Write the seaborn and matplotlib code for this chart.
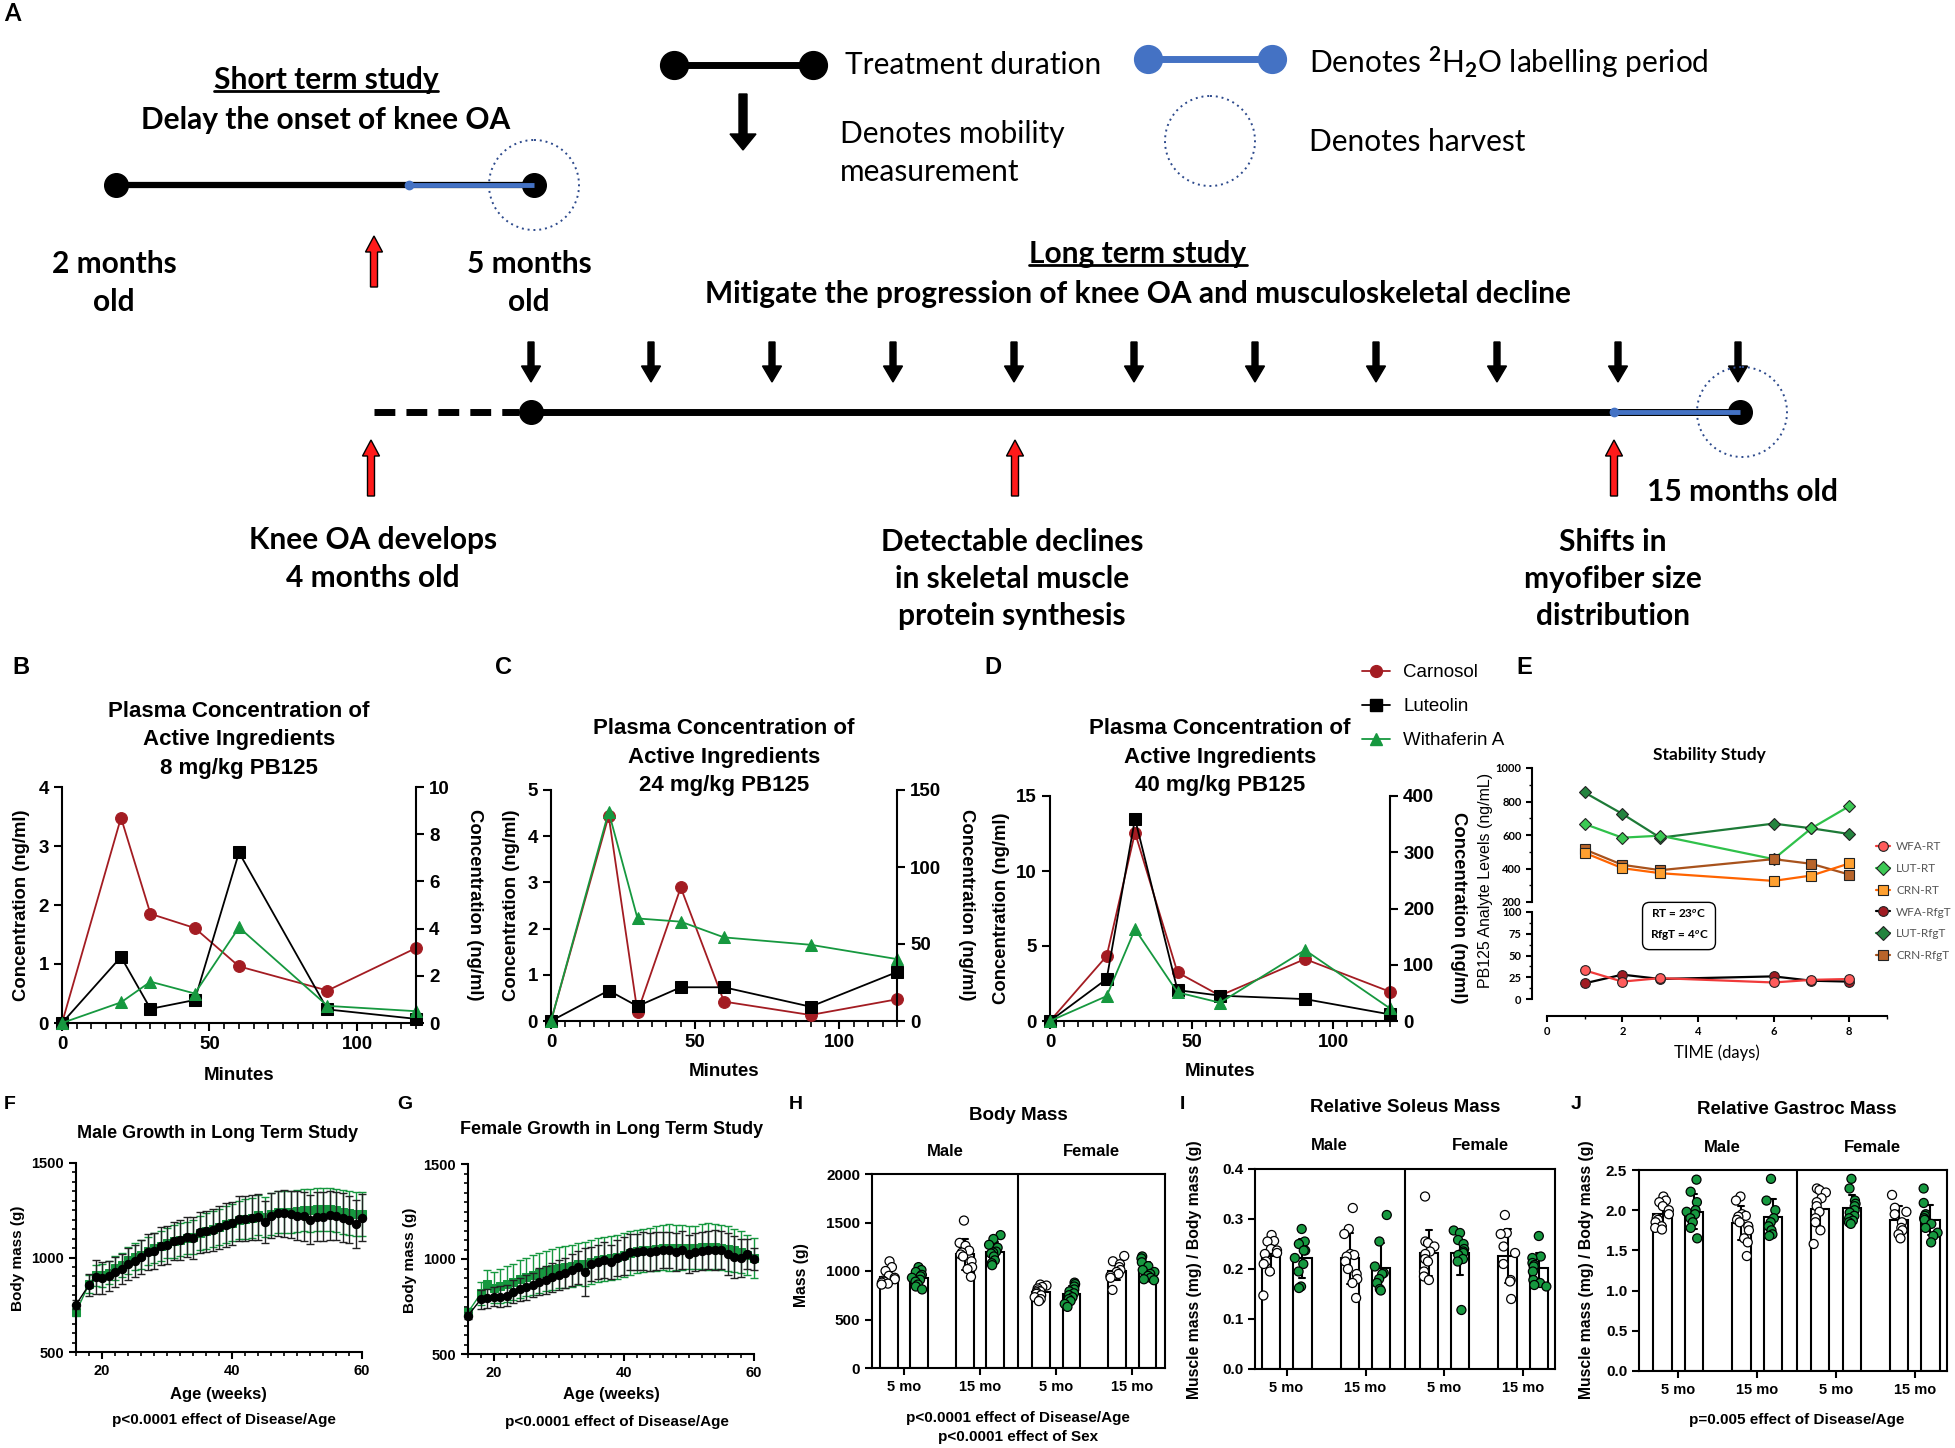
"""
PB125 study overview figure: timeline schematic, plasma PK curves,
stability study, growth curves and muscle-mass bar charts.
"""

import matplotlib.pyplot as plt
import numpy as np
import pandas as pd
import seaborn as sns
from matplotlib.lines import Line2D
from matplotlib.patches import Circle, FancyArrow
from matplotlib.ticker import MultipleLocator

# ── Data: plasma concentration (B-D) ────────────────────────────────
TIMES = [0, 20, 30, 45, 60, 90, 120]

B_CARNOSOL = [0, 3.48, 1.85, 1.61, 0.96, 0.55, 1.27]
B_LUTEOLIN = [0, 1.12, 0.24, 0.39, 2.89, 0.23, 0.07]
B_WITHAFERIN = [0, 0.35, 0.70, 0.50, 1.62, 0.29, 0.20]

C_CARNOSOL = [0, 4.44, 0.19, 2.89, 0.42, 0.13, 0.47]
C_LUTEOLIN = [0, 0.66, 0.32, 0.73, 0.73, 0.31, 1.06]
C_WITHAFERIN = [0, 4.53, 2.22, 2.15, 1.81, 1.65, 1.34]

D_CARNOSOL = [0, 4.33, 12.56, 3.24, 1.69, 4.13, 1.95]
D_LUTEOLIN = [0, 2.80, 13.49, 2.06, 1.69, 1.46, 0.44]
D_WITHAFERIN = [0, 1.66, 6.12, 1.91, 1.22, 4.73, 0.84]

# ── Data: stability study (E) ───────────────────────────────────────
DAYS = [1, 2, 3, 6, 7, 8]
WFA_RT = [33, 20, 24, 19, 22, 23]
LUT_RT = [666, 584, 596, 456, 640, 772]
CRN_RT = [494, 402, 372, 326, 358, 430]
WFA_RFGT = [18, 28, 23, 26, 21, 20]
LUT_RFGT = [854, 726, 584, 668, 640, 606]
CRN_RFGT = [514, 422, 390, 456, 428, 364]

# ── Data: growth curves (F, G) ──────────────────────────────────────
WEEKS = [16] + list(range(18, 61))

MALE_CTRL = [750, 855, 895, 890, 904, 925, 939, 966, 982, 1004,
             1027, 1036, 1062, 1066, 1089, 1092, 1110, 1103, 1133, 1138,
             1145, 1159, 1171, 1180, 1206, 1206, 1210, 1215, 1187, 1222,
             1233, 1233, 1228, 1221, 1219, 1201, 1215, 1215, 1224, 1219,
             1210, 1201, 1177, 1210]
MALE_CTRL_SD = [25, 60, 90, 85, 80, 80, 80, 85, 85, 90,
                95, 95, 100, 100, 100, 105, 105, 110, 110, 110,
                110, 115, 115, 115, 120, 120, 120, 120, 110, 120,
                120, 125, 125, 130, 130, 130, 130, 130, 130, 125,
                130, 125, 125, 125]
MALE_PB = [710, 860, 905, 905, 920, 945, 960, 985, 1005, 1015,
           1035, 1050, 1060, 1075, 1085, 1095, 1105, 1110, 1130, 1140,
           1150, 1160, 1175, 1185, 1200, 1205, 1210, 1225, 1215, 1230,
           1240, 1240, 1240, 1245, 1250, 1250, 1255, 1255, 1255, 1250,
           1240, 1235, 1230, 1230]
MALE_PB_SD = [20, 50, 55, 60, 60, 65, 65, 70, 70, 75,
              75, 80, 80, 80, 85, 85, 85, 90, 90, 95,
              95, 95, 100, 100, 100, 105, 105, 105, 105, 110,
              110, 110, 110, 110, 110, 115, 115, 115, 115, 115,
              115, 115, 115, 115]

FEMALE_CTRL = [702, 789, 793, 802, 802, 807, 828, 840, 851, 863,
               881, 889, 903, 916, 925, 942, 956, 932, 974, 986,
               995, 986, 1004, 1018, 1035, 1035, 1044, 1039, 1044, 1047,
               1047, 1035, 1047, 1025, 1039, 1044, 1047, 1047, 1047, 1025,
               1012, 1004, 1025, 1000]
FEMALE_CTRL_SD = [20, 50, 50, 50, 55, 55, 60, 60, 65, 65,
                  70, 75, 75, 80, 80, 85, 85, 125, 90, 90,
                  95, 90, 95, 100, 95, 95, 100, 100, 100, 95,
                  95, 100, 100, 100, 100, 100, 100, 105, 100, 110,
                  110, 100, 80, 60]
FEMALE_PB = [720, 820, 870, 850, 860, 870, 880, 895, 905, 915,
             925, 935, 945, 955, 960, 965, 975, 975, 985, 995,
             1000, 1005, 1010, 1020, 1030, 1040, 1045, 1050, 1055, 1060,
             1060, 1060, 1060, 1060, 1060, 1065, 1065, 1065, 1060, 1055,
             1045, 1035, 1020, 1005]
FEMALE_PB_SD = [20, 60, 70, 80, 90, 95, 95, 100, 100, 105,
                105, 105, 110, 110, 110, 110, 110, 115, 115, 115,
                115, 115, 115, 115, 115, 115, 115, 115, 120, 120,
                125, 120, 120, 115, 115, 120, 125, 120, 120, 120,
                115, 110, 105, 105]

# ── Data: body and muscle mass (H-J) ────────────────────────────────
CATS = ["M5", "M15", "F5", "F15"]
AGE_LABELS = ["5 mo", "15 mo", "5 mo", "15 mo"]
GROUPS = ["Vehicle", "PB125"]

BODY_M5_VEH = [1100, 1040, 1000, 950, 930, 915, 900, 890, 880, 870, 860]
BODY_M5_PB = [1040, 1010, 990, 960, 945, 930, 910, 890, 860, 840, 810]
BODY_M15_VEH = [1520, 1290, 1260, 1210, 1190, 1170, 1150, 1100, 1040, 1020, 940]
BODY_M15_PB = [1370, 1330, 1270, 1240, 1200, 1190, 1180, 1150, 1110, 1080, 1060]
BODY_F5_VEH = [860, 850, 835, 820, 800, 790, 780, 765, 750, 730, 710, 690]
BODY_F5_PB = [880, 865, 840, 810, 790, 770, 750, 730, 710, 690, 660, 630]
BODY_F15_VEH = [1155, 1100, 1070, 1040, 1010, 990, 970, 950, 930, 805]
BODY_F15_PB = [1150, 1130, 1090, 1050, 1010, 990, 970, 950, 930, 915, 905]

SOL_M5_VEH = [0.268, 0.256, 0.255, 0.240, 0.237, 0.232, 0.230, 0.215, 0.210, 0.195, 0.147]
SOL_M5_PB = [0.280, 0.255, 0.250, 0.237, 0.237, 0.222, 0.210, 0.195, 0.165, 0.162]
SOL_M15_VEH = [0.322, 0.280, 0.270, 0.230, 0.228, 0.225, 0.215, 0.200, 0.190, 0.180, 0.172, 0.142]
SOL_M15_PB = [0.308, 0.255, 0.205, 0.192, 0.190, 0.180, 0.172, 0.160, 0.157]
SOL_F5_VEH = [0.345, 0.255, 0.252, 0.245, 0.235, 0.230, 0.220, 0.215, 0.195, 0.185, 0.178]
SOL_F5_PB = [0.277, 0.272, 0.258, 0.250, 0.240, 0.235, 0.232, 0.228, 0.220, 0.215, 0.118]
SOL_F15_VEH = [0.308, 0.272, 0.270, 0.245, 0.232, 0.210, 0.178, 0.175, 0.140]
SOL_F15_PB = [0.266, 0.225, 0.222, 0.212, 0.208, 0.205, 0.195, 0.178, 0.172, 0.168, 0.165]

GAS_M5_VEH = [2.17, 2.12, 2.10, 2.05, 2.00, 1.95, 1.90, 1.88, 1.85, 1.80, 1.78, 1.76]
GAS_M5_PB = [2.38, 2.23, 2.10, 2.00, 1.98, 1.95, 1.90, 1.85, 1.78, 1.65]
GAS_M15_VEH = [2.17, 2.12, 1.95, 1.93, 1.92, 1.88, 1.85, 1.80, 1.75, 1.65, 1.60, 1.43]
GAS_M15_PB = [2.39, 2.12, 2.00, 1.90, 1.85, 1.80, 1.75, 1.70, 1.68]
GAS_F5_VEH = [2.27, 2.25, 2.22, 2.15, 2.10, 2.05, 1.98, 1.90, 1.85, 1.75, 1.58]
GAS_F5_PB = [2.39, 2.27, 2.12, 2.08, 2.05, 2.00, 1.97, 1.93, 1.90, 1.87, 1.85, 1.83]
GAS_F15_VEH = [2.19, 2.03, 1.98, 1.95, 1.85, 1.78, 1.75, 1.70, 1.65]
GAS_F15_PB = [2.27, 2.09, 1.95, 1.93, 1.90, 1.88, 1.83, 1.78, 1.72, 1.68, 1.60]

# ── Theme ───────────────────────────────────────────────────────────
sns.set_theme(style="ticks")
plt.rcParams.update({
    "font.family": ["Liberation Sans", "DejaVu Sans"],
    "font.weight": "bold",
    "axes.labelweight": "bold",
    "axes.titleweight": "bold",
    "axes.edgecolor": "black",
    "axes.linewidth": 1.5,
    "text.color": "black",
    "xtick.color": "black",
    "ytick.color": "black",
    "xtick.major.width": 1.5,
    "ytick.major.width": 1.5,
    "xtick.minor.width": 1.2,
    "ytick.minor.width": 1.2,
    "mathtext.fontset": "custom",
    "mathtext.rm": "Lato",
    "mathtext.it": "Lato:italic",
    "mathtext.bf": "Lato:bold",
})

RED = "#a31c22"
GREEN = "#16983f"
BLUE = "#4472c4"
W, H = 1956, 1448

fig = plt.figure(figsize=(W / 100, H / 100), dpi=100)


def px_rect(x0, y0, x1, y1):
    return [x0 / W, 1 - y1 / H, (x1 - x0) / W, (y1 - y0) / H]


def ftext(x, y, s, **kw):
    kw.setdefault("ha", "center")
    kw.setdefault("va", "center")
    return fig.text(x / W, 1 - y / H, s, **kw)


# ── Panel letters ───────────────────────────────────────────────────
for letter, x, y, size in [("B", 12, 656, 17), ("C", 495, 656, 17),
                           ("D", 984, 656, 17), ("E", 1516, 656, 17),
                           ("F", 4, 1096, 14), ("G", 397, 1096, 14),
                           ("H", 789, 1096, 14), ("I", 1180, 1096, 14),
                           ("J", 1571, 1096, 14)]:
    ftext(x, y, letter, ha="left", va="top", fontsize=size)
ftext(4, 2, "A", ha="left", va="top", fontsize=17, family="Lato")

# ── Panel A: study timeline schematic ───────────────────────────────
ax_a = fig.add_axes([0, 1 - 650 / H, 1, 650 / H])
ax_a.set_xlim(0, W)
ax_a.set_ylim(650, 0)
ax_a.set_axis_off()

A_FONT = dict(family="Lato", fontsize=21.5)


def dumbbell(x0, x1, y, color, lw, ms):
    ax_a.plot([x0, x1], [y, y], color=color, lw=lw, solid_capstyle="butt")
    ax_a.plot([x0, x1], [y, y], "o", color=color, ms=ms)


def harvest(x, y):
    ax_a.add_patch(Circle((x, y), 45, fill=False, ec="#2d4a8c",
                          lw=1.4, ls=(0, (1, 2))))


def down_arrow(x, y0, y1, width=6, head=19):
    ax_a.add_patch(FancyArrow(x, y0, 0, y1 - y0, width=width, head_width=head,
                              head_length=16, length_includes_head=True,
                              fc="black", ec="black"))


def red_arrow(x, y_tail, y_head):
    ax_a.add_patch(FancyArrow(x, y_tail, 0, y_head - y_tail, width=7,
                              head_width=17, head_length=16,
                              length_includes_head=True,
                              fc="#ff1a1a", ec="black", lw=1))


def underline(t):
    r = fig.canvas.get_renderer()
    bb = t.get_window_extent(renderer=r)
    inv = ax_a.transData.inverted()
    (x0, y0), (x1, _) = inv.transform([[bb.x0, bb.y0], [bb.x1, bb.y1]])
    ax_a.plot([x0, x1], [y0 - 3, y0 - 3], color="black", lw=2)


# legend of the schematic
dumbbell(674, 813, 65, "black", 5, 20)
ax_a.text(845, 65, "Treatment duration", va="center", fontweight="normal", **A_FONT)
dumbbell(1148, 1272, 59, BLUE, 5, 20)
ax_a.text(1309, 62, "Denotes $^{2}$H$_{2}$O labelling period", va="center",
          fontweight="normal", **A_FONT)
down_arrow(743, 94, 150, width=8, head=26)
ax_a.text(840, 153, "Denotes mobility\nmeasurement", va="center",
          linespacing=1.45, fontweight="normal", **A_FONT)
harvest(1210, 141)
ax_a.text(1309, 142, "Denotes harvest", va="center", fontweight="normal", **A_FONT)

# short term study
t = ax_a.text(326, 80, "Short term study", ha="center", va="center",
              fontweight="bold", **A_FONT)
underline(t)
ax_a.text(326, 120, "Delay the onset of knee OA", ha="center", va="center",
          fontweight="bold", **A_FONT)
ax_a.plot([116, 534], [185, 185], color="black", lw=4.5, solid_capstyle="butt")
ax_a.plot([116, 534], [185, 185], "o", color="black", ms=17)
ax_a.plot([409, 534], [185, 185], color=BLUE, lw=3.5, solid_capstyle="butt")
ax_a.plot([409], [185], "o", color=BLUE, ms=6)
harvest(534, 185)
red_arrow(374, 287, 236)
ax_a.text(114, 283, "2 months\nold", ha="center", va="center",
          linespacing=1.4, fontweight="bold", **A_FONT)
ax_a.text(529, 283, "5 months\nold", ha="center", va="center",
          linespacing=1.4, fontweight="bold", **A_FONT)

# long term study
t = ax_a.text(1138, 254, "Long term study", ha="center", va="center",
              fontweight="bold", **A_FONT)
underline(t)
ax_a.text(1138, 294, "Mitigate the progression of knee OA and musculoskeletal decline",
          ha="center", va="center", fontweight="bold", **A_FONT)
for x in [531, 651, 772, 893, 1014, 1134, 1255, 1376, 1497, 1618, 1738]:
    down_arrow(x, 342, 382)
ax_a.plot([374, 519], [412, 412], color="black", lw=5, ls=(0, (3, 1.6)),
          solid_capstyle="butt")
ax_a.plot([531, 1740], [412, 412], color="black", lw=5, solid_capstyle="butt")
ax_a.plot([531, 1740], [412, 412], "o", color="black", ms=17)
ax_a.plot([1614, 1740], [412, 412], color=BLUE, lw=3.5, solid_capstyle="butt")
ax_a.plot([1614], [412], "o", color=BLUE, ms=6)
harvest(1742, 412)
for x in [371, 1015, 1614]:
    red_arrow(x, 496, 440)
ax_a.text(1647, 492, "15 months old", va="center", fontweight="bold", **A_FONT)
ax_a.text(373, 559, "Knee OA develops\n4 months old", ha="center", va="center",
          linespacing=1.4, fontweight="bold", **A_FONT)
ax_a.text(1012, 579, "Detectable declines\nin skeletal muscle\nprotein synthesis",
          ha="center", va="center", linespacing=1.4, fontweight="bold", **A_FONT)
ax_a.text(1613, 579, "Shifts in\nmyofiber size\ndistribution",
          ha="center", va="center", linespacing=1.4, fontweight="bold", **A_FONT)

# ── Panels B-D: plasma concentration ────────────────────────────────
SERIES_STYLE = [("Carnosol", RED, "o"), ("Luteolin", "black", "s"),
                ("Withaferin A", GREEN, "^")]


def pk_panel(px, series, left_max, left_step, right_max, right_step,
             title, title_y, lab_y, left_x, right_x, minutes_y):
    ax = fig.add_axes(px_rect(*px))
    for vals, (name, col, mk) in zip(series, SERIES_STYLE):
        sns.lineplot(x=TIMES, y=vals, ax=ax, color=col, marker=mk,
                     markersize=8.5, markeredgecolor=col, linewidth=1.3,
                     clip_on=False, zorder=3)
    ax.set_xlim(0, 120)
    ax.set_ylim(0, left_max)
    ax.set_xticks([0, 50, 100])
    ax.xaxis.set_minor_locator(MultipleLocator(5))
    ax.yaxis.set_major_locator(MultipleLocator(left_step))
    ax.tick_params(which="major", direction="out", length=6, labelsize=13.5)
    ax.tick_params(which="minor", direction="out", length=4)
    ax.spines[["top", "right"]].set_visible(False)
    ax.set_xlabel("")
    ax.set_ylabel("")

    ax2 = ax.twinx()
    ax2.set_ylim(0, right_max)
    ax2.yaxis.set_major_locator(MultipleLocator(right_step))
    ax2.tick_params(direction="out", length=6, labelsize=13.5)
    ax2.spines[["top", "left", "bottom"]].set_visible(False)
    ax2.grid(False)

    cx = (px[0] + px[2]) / 2
    ftext(cx, title_y, title, fontsize=16, linespacing=1.45)
    ftext(left_x, lab_y, "Concentration (ng/ml)", rotation=90, fontsize=13.3)
    ftext(right_x, lab_y, "Concentration (ng/ml)", rotation=270, fontsize=13.3)
    ftext(cx, minutes_y, "Minutes", fontsize=13.5)
    return ax


pk_panel((62, 787, 416, 1023), [B_CARNOSOL, B_LUTEOLIN, B_WITHAFERIN],
         4, 1, 10, 2, "Plasma Concentration of\nActive Ingredients\n8 mg/kg PB125",
         740, 905, 22, 475, 1075)
pk_panel((551, 790, 897, 1021), [C_CARNOSOL, C_LUTEOLIN, C_WITHAFERIN],
         5, 1, 150, 50, "Plasma Concentration of\nActive Ingredients\n24 mg/kg PB125",
         757, 905, 512, 967, 1072)
pk_panel((1050, 796, 1390, 1021), [D_CARNOSOL, D_LUTEOLIN, D_WITHAFERIN],
         15, 5, 400, 100, "Plasma Concentration of\nActive Ingredients\n40 mg/kg PB125",
         757, 908, 1002, 1459, 1072)

pk_handles = [Line2D([], [], color=c, marker=m, markersize=8.5, lw=1.3)
              for _, c, m in SERIES_STYLE]
fig.legend(pk_handles, [n for n, _, _ in SERIES_STYLE], loc="upper left",
           bbox_to_anchor=(1362 / W, 1 - 664 / H), frameon=False,
           prop=dict(size=13.5, weight="normal"), handlelength=1.5,
           labelspacing=0.9, handletextpad=0.7, borderpad=0, borderaxespad=0)

# ── Panel E: stability study (broken y axis) ────────────────────────
ax_eu = fig.add_axes(px_rect(1532, 768, 1887, 902))
ax_el = fig.add_axes(px_rect(1532, 912, 1887, 999))

E_STYLE = [
    ("WFA-RT", WFA_RT, "#f03a3a", "#ff5c5c", "o", ax_el),
    ("LUT-RT", LUT_RT, "#2fc14a", "#3cc954", "D", ax_eu),
    ("CRN-RT", CRN_RT, "#ff6400", "#ffa030", "s", ax_eu),
    ("WFA-RfgT", WFA_RFGT, "black", "#a01b22", "o", ax_el),
    ("LUT-RfgT", LUT_RFGT, "#1d7a37", "#24843f", "D", ax_eu),
    ("CRN-RfgT", CRN_RFGT, "#a8521c", "#b8642a", "s", ax_eu),
]
e_handles = []
for name, vals, line_col, face, mk, ax in [E_STYLE[4], E_STYLE[1], E_STYLE[5],
                                          E_STYLE[2], E_STYLE[3], E_STYLE[0]]:
    sns.lineplot(x=DAYS, y=vals, ax=ax, color=line_col, marker=mk,
                 markersize=7 if mk != "D" else 6.5, markerfacecolor=face,
                 markeredgecolor="#222222", markeredgewidth=0.8,
                 linewidth=1.6, clip_on=False)
for name, vals, line_col, face, mk, ax in E_STYLE:
    e_handles.append(Line2D([], [], color=line_col, marker=mk, markersize=7,
                            markerfacecolor=face, markeredgecolor="#222222",
                            markeredgewidth=0.8, lw=1.6))

for ax in (ax_eu, ax_el):
    ax.set_xlim(-0.39, 9)
    ax.set_xlabel("")
    ax.set_ylabel("")
    ax.spines[["top", "right"]].set_visible(False)
    ax.tick_params(which="major", direction="out", length=4, width=1.5,
                   labelsize=8)
    ax.tick_params(which="minor", direction="out", length=2.5, width=1)

ax_eu.set_ylim(200, 1000)
ax_eu.set_yticks([200, 400, 600, 800, 1000])
ax_eu.yaxis.set_minor_locator(MultipleLocator(100))
ax_eu.spines["bottom"].set_visible(False)
ax_eu.tick_params(axis="x", bottom=False, labelbottom=False, which="both")

ax_el.set_ylim(0, 100)
ax_el.set_yticks([0, 25, 50, 75, 100])
ax_el.yaxis.set_minor_locator(MultipleLocator(12.5))
ax_el.spines["bottom"].set_position(("outward", 12))
ax_el.spines["bottom"].set_bounds(0, 9)
ax_el.set_xticks([0, 2, 4, 6, 8])
ax_el.xaxis.set_minor_locator(MultipleLocator(1))
for ax in (ax_eu, ax_el):
    for lab in ax.get_xticklabels() + ax.get_yticklabels():
        lab.set_family("Lato")

ftext(1709, 755, "Stability Study", fontsize=12.5, family="Lato")
ftext(1486, 880, "PB125 Analyte Levels (ng/mL)", rotation=90, fontsize=11.5,
      fontweight="normal")
ftext(1717, 1053, "TIME (days)", fontsize=12, family="Lato", fontweight="normal")
ftext(1679, 925, "RT = 23$^{o}$C\nRfgT = 4$^{o}$C", fontsize=8.5, family="Lato",
      linespacing=1.8,
      bbox=dict(boxstyle="round,pad=0.6", fc="white", ec="black", lw=1))
fig.legend(e_handles, [s[0] for s in E_STYLE], loc="upper left",
           bbox_to_anchor=(1876 / W, 1 - 841 / H), frameon=False,
           prop=dict(family="Lato", size=8.5, weight="normal"),
           labelcolor="#555555", handlelength=1.2, labelspacing=0.92,
           handletextpad=0.5, borderpad=0, borderaxespad=0)

# ── Panels F, G: growth curves ──────────────────────────────────────


def growth_panel(px, ctrl, ctrl_sd, pb, pb_sd, title, title_xy, ylab_xy,
                 xlab_xy, note_xy):
    ax = fig.add_axes(px_rect(*px))
    ax.errorbar(WEEKS, pb, yerr=pb_sd, fmt="none", ecolor=GREEN,
                elinewidth=1, capsize=3, capthick=1, clip_on=False)
    sns.lineplot(x=WEEKS, y=pb, ax=ax, color=GREEN, marker="s", markersize=5.5,
                 markeredgecolor=GREEN, linewidth=1, clip_on=False)
    ax.errorbar(WEEKS, ctrl, yerr=ctrl_sd, fmt="none", ecolor="#222222",
                elinewidth=1, capsize=3, capthick=1, clip_on=False)
    sns.lineplot(x=WEEKS, y=ctrl, ax=ax, color="black", marker="o",
                 markersize=6, markeredgecolor="black", linewidth=1,
                 clip_on=False)
    ax.set_xlim(16, 60)
    ax.set_ylim(500, 1500)
    ax.set_xticks([20, 40, 60])
    ax.set_yticks([500, 1000, 1500])
    ax.xaxis.set_minor_locator(MultipleLocator(2))
    ax.yaxis.set_minor_locator(MultipleLocator(50))
    ax.tick_params(which="major", direction="out", length=5, labelsize=10.5)
    ax.tick_params(which="minor", direction="out", length=3)
    ax.spines[["top", "right"]].set_visible(False)
    ax.set_xlabel("")
    ax.set_ylabel("")
    ftext(*title_xy, title, fontsize=13)
    ftext(*ylab_xy, "Body mass (g)", rotation=90, fontsize=11)
    ftext(*xlab_xy, "Age (weeks)", fontsize=12)
    ftext(*note_xy, "p<0.0001 effect of Disease/Age", fontsize=11)


growth_panel((76, 1163, 362, 1352), MALE_CTRL, MALE_CTRL_SD, MALE_PB, MALE_PB_SD,
             "Male Growth in Long Term Study", (218, 1133), (18, 1258),
             (218, 1394), (224, 1420))
growth_panel((468, 1164, 754, 1354), FEMALE_CTRL, FEMALE_CTRL_SD, FEMALE_PB,
             FEMALE_PB_SD, "Female Growth in Long Term Study", (612, 1130),
             (410, 1260), (611, 1395), (617, 1422))

# ── Panels H-J: body and muscle mass bars ───────────────────────────


def mass_frame(veh_lists, pb_lists):
    rows = []
    for cat, veh, pb in zip(CATS, veh_lists, pb_lists):
        rows += [{"age": cat, "group": "Vehicle", "value": v} for v in veh]
        rows += [{"age": cat, "group": "PB125", "value": v} for v in pb]
    return pd.DataFrame(rows)


def mass_panel(px, frame, ymax, ystep, xlim, fmt, title, title_xy, ylabel,
               ylab_xy, header_y, male_x, female_x):
    ax = fig.add_axes(px_rect(*px))
    sns.barplot(data=frame, x="age", y="value", hue="group", order=CATS,
                hue_order=GROUPS, palette={"Vehicle": "white", "PB125": "white"},
                saturation=1, edgecolor="black", linewidth=1.5, errorbar="sd",
                capsize=0.15, err_kws={"color": "black", "linewidth": 1.5},
                gap=0.42, legend=False, ax=ax)
    np.random.seed(3)
    sns.stripplot(data=frame, x="age", y="value", hue="group", order=CATS,
                  hue_order=GROUPS, palette={"Vehicle": "white", "PB125": GREEN},
                  dodge=True, jitter=0.2, size=6.5, edgecolor="black",
                  linewidth=0.9, legend=False, ax=ax)
    ax.axvline(1.5, color="black", lw=1.5)
    ax.set_xlim(*xlim)
    ax.set_ylim(0, ymax)
    ax.yaxis.set_major_locator(MultipleLocator(ystep))
    ax.yaxis.set_major_formatter(fmt)
    ax.set_xticks(range(4))
    ax.set_xticklabels(AGE_LABELS)
    ax.tick_params(direction="out", length=5, labelsize=11)
    ax.tick_params(axis="x", labelsize=10.5)
    ax.set_xlabel("")
    ax.set_ylabel("")
    ftext(*title_xy, title, fontsize=13.5)
    ftext(male_x, header_y, "Male", fontsize=12)
    ftext(female_x, header_y, "Female", fontsize=12)
    ftext(*ylab_xy, ylabel, rotation=90, fontsize=11.3)
    return ax


mass_panel((872, 1174, 1165, 1368),
           mass_frame([BODY_M5_VEH, BODY_M15_VEH, BODY_F5_VEH, BODY_F15_VEH],
                      [BODY_M5_PB, BODY_M15_PB, BODY_F5_PB, BODY_F15_PB]),
           2000, 500, (-0.42, 3.43), "{x:.0f}", "Body Mass", (1018, 1115),
           "Mass (g)", (802, 1275), 1152, 945, 1091)
mass_panel((1255, 1169, 1555, 1369),
           mass_frame([SOL_M5_VEH, SOL_M15_VEH, SOL_F5_VEH, SOL_F15_VEH],
                      [SOL_M5_PB, SOL_M15_PB, SOL_F5_PB, SOL_F15_PB]),
           0.4, 0.1, (-0.40, 3.40), "{x:.1f}", "Relative Soleus Mass",
           (1405, 1108), "Muscle mass (mg) / Body mass (g)", (1195, 1270),
           1145, 1329, 1480)
mass_panel((1639, 1170, 1947, 1371),
           mass_frame([GAS_M5_VEH, GAS_M15_VEH, GAS_F5_VEH, GAS_F15_VEH],
                      [GAS_M5_PB, GAS_M15_PB, GAS_F5_PB, GAS_F15_PB]),
           2.5, 0.5, (-0.50, 3.41), "{x:.1f}", "Relative Gastroc Mass",
           (1797, 1110), "Muscle mass (mg) / Body mass (g)", (1587, 1270),
           1147, 1722, 1872)

ftext(1018, 1418, "p<0.0001 effect of Disease/Age", fontsize=11)
ftext(1018, 1437, "p<0.0001 effect of Sex", fontsize=11)
ftext(1797, 1420, "p=0.005 effect of Disease/Age", fontsize=11)

fig.savefig("out.png", dpi=100)
